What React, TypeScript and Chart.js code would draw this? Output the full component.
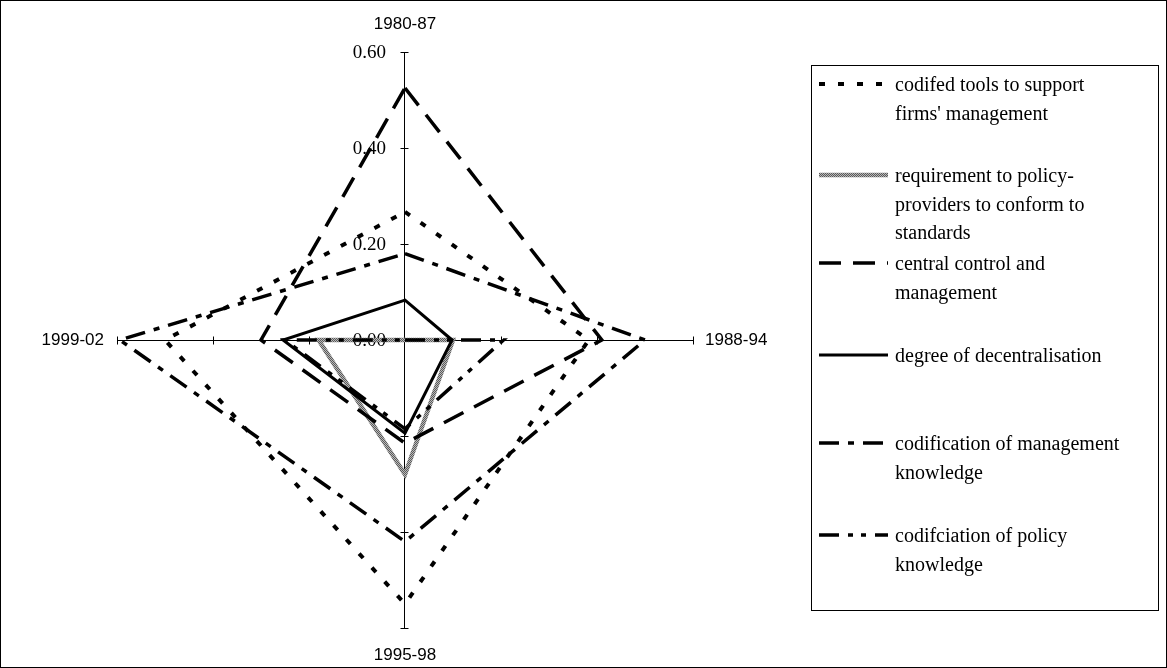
import React, { useEffect, useRef } from 'react';
import { Chart, registerables } from 'chart.js';

Chart.register(...registerables);

// ---- data ----
const periods = ['1980-87', '1988-94', '1995-98', '1999-02'];
const tickValues = [0, 0.2, 0.4, 0.6];
const codifiedTools = [0.267, 0.383, 0.55, 0.5];
const requirementStandards = [0.0, 0.1, 0.28, 0.18];
const centralControl = [0.525, 0.41, 0.215, 0.3];
const decentralisation = [0.083, 0.098, 0.194, 0.254];
const managementKnowledge = [0.18, 0.5, 0.42, 0.594];
const policyKnowledge = [0.0, 0.205, 0.185, 0.25];

const legendLines = [
  ['codifed tools to support', "firms' management"],
  ['requirement to policy-', 'providers to conform to', 'standards'],
  ['central control and', 'management'],
  ['degree of decentralisation'],
  ['codification of management', 'knowledge'],
  ['codifciation of policy', 'knowledge'],
];

const seriesValues = [
  codifiedTools,
  requirementStandards,
  centralControl,
  decentralisation,
  managementKnowledge,
  policyKnowledge,
];

// ---- styles ----
function grayPattern(): CanvasPattern | string {
  const c = document.createElement('canvas');
  c.width = 2;
  c.height = 2;
  const g = c.getContext('2d');
  if (!g) return '#999999';
  g.fillStyle = '#b8b8b8';
  g.fillRect(0, 0, 2, 2);
  g.fillStyle = '#5a5a5a';
  g.fillRect(0, 0, 1, 1);
  g.fillRect(1, 1, 1, 1);
  const p = g.createPattern(c, 'repeat');
  return p || '#999999';
}

const seriesStyles: { color: any; width: number; dash: number[] }[] = [
  { color: '#000000', width: 4, dash: [6, 13] },
  { color: '#999999', width: 4.5, dash: [] },
  { color: '#000000', width: 3.5, dash: [22, 12] },
  { color: '#000000', width: 3, dash: [] },
  { color: '#000000', width: 3.5, dash: [20, 9, 6, 9] },
  { color: '#000000', width: 3.5, dash: [20, 9, 5, 8, 5, 9] },
];

const W = 1167;
const H = 668;
const SERIF = '"Liberation Serif", "Times New Roman", serif';
const SANS = '"Liberation Sans", Arial, sans-serif';
const legendBox = { x: 811.5, y: 65.5, w: 347, h: 545 };
const legendRowY = [86, 177, 265, 357, 445, 537];
const legendLineHeight = 28.5;

const decorPlugin = {
  id: 'decor',
  beforeDatasetsDraw(chart: any) {
    const ctx = chart.ctx as CanvasRenderingContext2D;
    const scale = chart.scales.r;
    ctx.save();
    ctx.strokeStyle = '#000';
    ctx.lineWidth = 1;
    const cx = Math.round(scale.xCenter) - 0.5;
    const cy = Math.round(scale.yCenter) + 0.5;
    // axes
    for (let i = 0; i < periods.length; i++) {
      const p = scale.getPointPositionForValue(i, 0.6);
      const ex = Math.abs(p.x - scale.xCenter) < 1 ? cx : Math.round(p.x);
      const ey = Math.abs(p.y - scale.yCenter) < 1 ? cy : Math.round(p.y);
      ctx.beginPath();
      ctx.moveTo(cx, cy);
      ctx.lineTo(ex, ey);
      ctx.stroke();
    }
    // tick marks on each axis
    for (let i = 0; i < periods.length; i++) {
      for (const v of tickValues) {
        if (v === 0) continue;
        const p = scale.getPointPositionForValue(i, v);
        ctx.beginPath();
        if (i % 2 === 0) {
          const y = Math.round(p.y) + 0.5;
          ctx.moveTo(cx - 4, y);
          ctx.lineTo(cx + 4, y);
        } else {
          const x = Math.round(p.x) + 0.5;
          ctx.moveTo(x, cy - 4);
          ctx.lineTo(x, cy + 4);
        }
        ctx.stroke();
      }
    }
    // tick labels on top axis
    ctx.fillStyle = '#000';
    ctx.font = `19px ${SERIF}`;
    ctx.textAlign = 'right';
    ctx.textBaseline = 'middle';
    for (const v of tickValues) {
      const p = scale.getPointPositionForValue(0, v);
      ctx.fillText(v.toFixed(2), p.x - 19, p.y + 1);
    }
    ctx.restore();
  },
  afterDraw(chart: any) {
    const ctx = chart.ctx as CanvasRenderingContext2D;
    const scale = chart.scales.r;
    ctx.save();
    // point labels
    ctx.fillStyle = '#000';
    ctx.font = `17px ${SANS}`;
    ctx.textBaseline = 'middle';
    const top = scale.getPointPositionForValue(0, 0.6);
    ctx.textAlign = 'center';
    ctx.fillText(periods[0], top.x, top.y - 28);
    const right = scale.getPointPositionForValue(1, 0.6);
    ctx.textAlign = 'left';
    ctx.fillText(periods[1], right.x + 12, right.y);
    const bottom = scale.getPointPositionForValue(2, 0.6);
    ctx.textAlign = 'center';
    ctx.fillText(periods[2], bottom.x, bottom.y + 27);
    const left = scale.getPointPositionForValue(3, 0.6);
    ctx.textAlign = 'right';
    ctx.fillText(periods[3], left.x - 13, left.y);

    // legend
    ctx.strokeStyle = '#000';
    ctx.lineWidth = 1;
    ctx.strokeRect(legendBox.x, legendBox.y, legendBox.w, legendBox.h);
    ctx.font = `20px ${SERIF}`;
    ctx.textAlign = 'left';
    ctx.textBaseline = 'middle';
    const dsets = chart.data.datasets;
    for (let i = 0; i < legendLines.length; i++) {
      const st = seriesStyles[i];
      const y = legendRowY[i];
      ctx.beginPath();
      ctx.setLineDash(st.dash);
      ctx.lineWidth = st.width;
      ctx.strokeStyle = dsets[i].borderColor;
      ctx.moveTo(819, y - 2);
      ctx.lineTo(888, y - 2);
      ctx.stroke();
      ctx.setLineDash([]);
      ctx.fillStyle = '#000';
      legendLines[i].forEach((t, k) => {
        ctx.fillText(t, 895, y + k * legendLineHeight);
      });
    }
    // outer frame
    ctx.strokeStyle = '#000';
    ctx.lineWidth = 1;
    ctx.strokeRect(0.5, 0.5, W - 1, H - 1);
    ctx.restore();
  },
};

export default function App() {
  const ref = useRef<HTMLCanvasElement | null>(null);
  useEffect(() => {
    if (!ref.current) return;
    const pattern = grayPattern();
    const datasets = seriesValues.map((vals, i) => ({
      label: legendLines[i].join(' ').replace('policy- ', 'policy-'),
      data: vals,
      borderColor: i === 1 ? pattern : seriesStyles[i].color,
      borderWidth: seriesStyles[i].width,
      borderDash: seriesStyles[i].dash,
      borderCapStyle: 'butt' as const,
      borderJoinStyle: 'miter' as const,
      backgroundColor: 'transparent',
      fill: false,
      pointRadius: 0,
      pointHoverRadius: 0,
      tension: 0,
      order: seriesValues.length - i,
    }));
    const chart = new Chart(ref.current, {
      type: 'radar',
      data: { labels: periods, datasets: datasets as any },
      options: {
        responsive: false,
        animation: false,
        devicePixelRatio: 1,
        layout: { padding: { left: 117, top: 52, right: W - 693, bottom: H - 628 } },
        plugins: { legend: { display: false }, tooltip: { enabled: false } },
        scales: {
          r: {
            min: 0,
            max: 0.6,
            ticks: { display: false, stepSize: 0.2 },
            grid: { display: false },
            angleLines: { display: false },
            pointLabels: { display: false },
          },
        },
      },
      plugins: [decorPlugin],
    });
    return () => chart.destroy();
  }, []);
  return (
    <div style={{ position: 'absolute', left: 0, top: 0, width: W, height: H, background: '#fff' }}>
      <canvas ref={ref} width={W} height={H} style={{ width: W, height: H, display: 'block' }} />
    </div>
  );
}
